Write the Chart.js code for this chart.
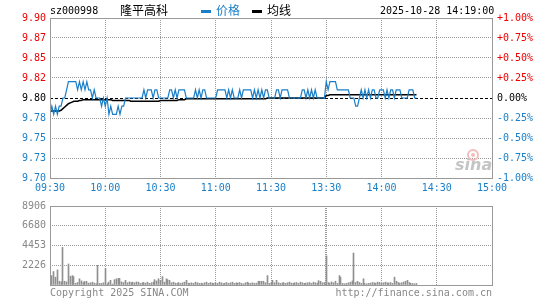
<!DOCTYPE html>
<html lang="zh-CN">
<head>
<meta charset="UTF-8">
<title>隆平高科 分时图</title>
<script src="https://cdn.jsdelivr.net/npm/chart.js"></script>
<style>
  body { margin: 0; width: 545px; height: 300px; position: relative; overflow: hidden; background: #fff;
         font-family: "DejaVu Sans Mono", monospace; font-size: 10px; color: #000; }
  .box { position: absolute; left: 0; width: 545px; }
  #priceBox { top: 0; height: 196px; }
  #volBox { top: 196px; height: 104px; }
  .txt { position: absolute; white-space: nowrap; line-height: 12px; }
  .cjk { font-family: "Noto Sans CJK SC", sans-serif; font-size: 12px; line-height: 14px; }
  .dash { position: absolute; width: 10px; height: 3px; }
  .gray { color: #888; }
</style>
</head>
<body>
<div class="box" id="priceBox"><canvas id="priceCanvas" width="545" height="196"></canvas></div>
<div class="box" id="volBox"><canvas id="volCanvas" width="545" height="104"></canvas></div>

<span class="txt" style="left:50px;top:5px">sz000998</span>
<span class="txt cjk" style="left:120px;top:3px">隆平高科</span>
<span class="dash" style="left:201px;top:10px;background:#1a7fc8"></span>
<span class="txt cjk" style="left:216px;top:3px;color:#1a7fc8">价格</span>
<span class="dash" style="left:252px;top:10px;background:#000"></span>
<span class="txt cjk" style="left:267px;top:3px">均线</span>
<span class="txt" style="left:380px;top:5px">2025-10-28 14:19:00</span>
<span class="txt gray" style="left:50px;top:287px">Copyright 2025 SINA.COM</span>
<span class="txt gray" style="right:53px;top:287px">http://finance.sina.com.cn</span>

<script>
const BLUE = '#1a7fc8';
const RED = '#ee0000';
const GRID = '#999';
const FONT = '"DejaVu Sans Mono", monospace';

const prevClose = 9.80;

// one point per minute, 09:30 .. 14:19
const price = [
  9.78,9.79,9.78,9.79,9.78,9.79,9.79,9.80,9.80,9.81,
  9.82,9.82,9.82,9.82,9.82,9.81,9.82,9.81,9.82,9.81,
  9.82,9.81,9.81,9.80,9.81,9.80,9.80,9.80,9.79,9.80,
  9.79,9.80,9.78,9.79,9.78,9.78,9.78,9.79,9.78,9.79,
  9.79,9.80,9.80,9.80,9.80,9.80,9.80,9.80,9.80,9.80,
  9.80,9.81,9.80,9.81,9.81,9.81,9.80,9.81,9.81,9.80,
  9.80,9.80,9.80,9.80,9.80,9.81,9.81,9.80,9.81,9.80,
  9.81,9.81,9.81,9.81,9.80,9.80,9.80,9.80,9.80,9.81,
  9.80,9.81,9.80,9.81,9.81,9.80,9.80,9.80,9.80,9.80,
  9.80,9.81,9.81,9.81,9.81,9.81,9.80,9.81,9.80,9.81,
  9.80,9.80,9.80,9.81,9.80,9.81,9.81,9.81,9.81,9.81,
  9.80,9.81,9.80,9.81,9.80,9.81,9.80,9.81,9.81,9.80,
  9.80,9.80,9.80,9.81,9.81,9.80,9.81,9.81,9.81,9.81,
  9.80,9.80,9.80,9.80,9.80,9.80,9.80,9.81,9.81,9.80,
  9.81,9.80,9.81,9.80,9.81,9.80,9.80,9.80,9.80,9.80,
  9.82,9.81,9.82,9.82,9.82,9.82,9.81,9.81,9.81,9.81,
  9.81,9.81,9.81,9.80,9.80,9.80,9.79,9.79,9.80,9.81,
  9.80,9.81,9.80,9.81,9.80,9.81,9.81,9.80,9.80,9.81,
  9.81,9.81,9.80,9.81,9.80,9.81,9.81,9.80,9.81,9.81,
  9.81,9.80,9.80,9.80,9.80,9.81,9.81,9.81,9.80,9.80
];

const avgLine = [
  9.784,9.784,9.784,9.784,9.784,9.784,9.785,9.787,9.789,9.791,
  9.793,9.794,9.795,9.796,9.796,9.796,9.797,9.797,9.798,9.798,
  9.798,9.798,9.798,9.798,9.798,9.798,9.798,9.798,9.798,9.798,
  9.798,9.798,9.798,9.798,9.797,9.797,9.797,9.797,9.797,9.797,
  9.797,9.797,9.797,9.797,9.796,9.796,9.796,9.796,9.796,9.796,
  9.796,9.796,9.796,9.796,9.796,9.796,9.796,9.796,9.796,9.796,
  9.797,9.797,9.797,9.797,9.797,9.797,9.797,9.797,9.797,9.797,
  9.798,9.798,9.798,9.798,9.799,9.799,9.799,9.799,9.799,9.799,
  9.799,9.799,9.799,9.799,9.799,9.799,9.799,9.799,9.799,9.799,
  9.799,9.799,9.799,9.799,9.799,9.799,9.799,9.799,9.799,9.799,
  9.799,9.799,9.799,9.799,9.799,9.799,9.799,9.799,9.799,9.799,
  9.799,9.799,9.799,9.799,9.799,9.799,9.799,9.799,9.800,9.800,
  9.800,9.800,9.800,9.800,9.800,9.800,9.800,9.800,9.800,9.800,
  9.800,9.800,9.800,9.800,9.800,9.800,9.800,9.800,9.800,9.800,
  9.800,9.800,9.800,9.800,9.800,9.800,9.800,9.800,9.800,9.800,
  9.803,9.803,9.804,9.804,9.804,9.804,9.804,9.804,9.804,9.804,
  9.804,9.804,9.804,9.804,9.804,9.804,9.804,9.804,9.804,9.804,
  9.804,9.804,9.804,9.804,9.804,9.804,9.804,9.804,9.804,9.804,
  9.804,9.804,9.804,9.804,9.804,9.804,9.804,9.804,9.804,9.804,
  9.804,9.804,9.804,9.804,9.804,9.804,9.804,9.804,9.804,9.804
];

const volume = [
  460,1060,1520,880,1700,420,350,4240,420,350,
  2370,990,1060,950,180,280,700,460,280,390,
  420,210,250,320,210,140,2220,180,180,250,
  1870,140,320,530,110,600,700,740,740,350,
  280,530,250,350,280,320,250,350,320,180,
  250,280,210,320,180,250,320,600,460,700,
  530,950,320,700,600,530,250,320,210,180,
  280,180,250,320,530,210,180,250,180,320,
  250,180,210,140,250,320,180,280,210,180,
  250,180,320,250,140,210,280,180,250,320,
  180,250,210,280,180,140,250,320,210,180,
  250,180,210,420,420,420,420,250,1060,180,
  280,530,250,530,250,180,210,280,180,250,
  320,210,180,250,280,180,320,250,180,210,
  250,280,180,320,250,180,490,420,250,280,
  3280,280,180,350,250,420,180,1060,880,180,
  140,180,250,320,460,3600,280,420,280,180,
  700,180,140,180,210,280,250,180,320,280,
  180,250,320,250,210,280,180,880,420,280,
  180,250,320,420,530,280,180,180,140,180
];

// axis ticks, bottom to top
const priceTicks = [9.702, 9.7265, 9.751, 9.7755, 9.80, 9.8245, 9.849, 9.8735, 9.898];
const priceTickLabels = ['9.70','9.73','9.75','9.78','9.80','9.82','9.85','9.87','9.90'];
const pctTickLabels = ['-1.00%','-0.75%','-0.50%','-0.25%','0.00%','+0.25%','+0.50%','+0.75%','+1.00%'];
const timeTicks = [0, 30, 60, 90, 120, 150, 180, 210, 240];
const timeLabels = ['09:30','10:00','10:30','11:00','11:30','13:30','14:00','14:30','15:00'];
const volTicks = [0, 2226.5, 4453, 6679.5, 8906];
const volTickLabels = ['', '2226', '4453', '6680', '8906'];

Chart.defaults.font.family = FONT;
Chart.defaults.font.size = 10;
Chart.defaults.animation = false;

function tickColor(c) {
  if (c.index > 4) return RED;
  if (c.index === 4) return '#000';
  return BLUE;
}

function drawFrame(chart) {
  const { ctx, chartArea: a } = chart;
  ctx.save();
  ctx.strokeStyle = GRID;
  ctx.lineWidth = 1;
  ctx.strokeRect(Math.round(a.left) + 0.5, Math.round(a.top) + 0.5,
                 Math.round(a.right - a.left), Math.round(a.bottom - a.top));
  ctx.restore();
}

const priceFrame = {
  id: 'priceFrame',
  beforeDatasetsDraw(chart) {
    const { ctx, chartArea: a, scales } = chart;
    ctx.save();
    // sina watermark
    ctx.strokeStyle = '#f4bcbc';
    ctx.lineWidth = 2;
    ctx.beginPath();
    ctx.arc(a.right - 19, a.bottom - 23, 5, 0, Math.PI * 2);
    ctx.stroke();
    ctx.fillStyle = '#f4bcbc';
    ctx.beginPath();
    ctx.arc(a.right - 19, a.bottom - 23, 2, 0, Math.PI * 2);
    ctx.fill();
    ctx.fillStyle = '#c4c4c4';
    ctx.font = 'italic bold 16px "DejaVu Sans"';
    ctx.textBaseline = 'alphabetic';
    ctx.fillText('sina', a.right - 37, a.bottom - 8);
    // previous close
    const y = Math.round(scales.y.getPixelForValue(prevClose)) + 0.5;
    ctx.strokeStyle = '#000';
    ctx.lineWidth = 1;
    ctx.setLineDash([3, 2]);
    ctx.beginPath();
    ctx.moveTo(a.left, y);
    ctx.lineTo(a.right, y);
    ctx.stroke();
    ctx.restore();
  },
  afterDraw: drawFrame
};

const volFrame = {
  id: 'volFrame',
  beforeDatasetsDraw(chart) {
    // snap the 1px bars onto whole pixels so they stay crisp
    chart.getDatasetMeta(0).data.forEach(el => { el.x = Math.floor(el.x) + 0.5; });
  },
  afterDraw: drawFrame
};

new Chart(document.getElementById('priceCanvas'), {
  type: 'line',
  data: {
    datasets: [
      { label: '价格', data: price.map((v, i) => ({ x: i, y: v })),
        borderColor: BLUE, borderWidth: 1.2, pointRadius: 0, tension: 0 },
      { label: '均线', data: avgLine.map((v, i) => ({ x: i, y: v })),
        borderColor: '#000', borderWidth: 1.5, pointRadius: 0, tension: 0 }
    ]
  },
  options: {
    responsive: false,
    devicePixelRatio: 1,
    layout: { padding: { top: 18, left: 0, right: 0, bottom: 0 } },
    plugins: { legend: { display: false }, tooltip: { enabled: false } },
    scales: {
      x: {
        type: 'linear', min: 0, max: 240,
        afterBuildTicks: ax => { ax.ticks = timeTicks.map(v => ({ value: v })); },
        afterFit: s => { s.height = 18; },
        ticks: { callback: (v, i) => timeLabels[i], color: BLUE, padding: 4,
                 maxRotation: 0, autoSkip: false },
        grid: { color: GRID, drawTicks: false },
        border: { display: false, dash: [1, 1] }
      },
      y: {
        position: 'left', min: 9.702, max: 9.898,
        afterBuildTicks: ax => { ax.ticks = priceTicks.map(v => ({ value: v })); },
        afterFit: s => { s.width = 50; },
        ticks: { callback: (v, i) => priceTickLabels[i], color: tickColor, padding: 4 },
        grid: { color: c => (c.index === 4 ? 'rgba(0,0,0,0)' : GRID), drawTicks: false },
        border: { display: false, dash: [1, 1] }
      },
      y2: {
        position: 'right', min: 9.702, max: 9.898,
        afterBuildTicks: ax => { ax.ticks = priceTicks.map(v => ({ value: v })); },
        afterFit: s => { s.width = 53; },
        ticks: { callback: (v, i) => pctTickLabels[i], color: tickColor, padding: 5 },
        grid: { display: false, drawTicks: false },
        border: { display: false }
      }
    }
  },
  plugins: [priceFrame]
});

new Chart(document.getElementById('volCanvas'), {
  type: 'bar',
  data: {
    datasets: [
      { label: '成交量', data: volume.map((v, i) => ({ x: i, y: v })),
        backgroundColor: '#909090', barThickness: 1 }
    ]
  },
  options: {
    responsive: false,
    devicePixelRatio: 1,
    layout: { padding: { top: 5, left: 0, right: 53, bottom: 15 } },
    plugins: { legend: { display: false }, tooltip: { enabled: false } },
    scales: {
      x: {
        type: 'linear', min: 0, max: 240, offset: false,
        afterBuildTicks: ax => { ax.ticks = timeTicks.map(v => ({ value: v })); },
        ticks: { display: false },
        grid: { color: GRID, drawTicks: false, offset: false,
                lineWidth: c => (c.index === 5 ? 2 : 1) },
        border: { display: false, dash: [1, 1] }
      },
      y: {
        min: 0, max: 8906,
        afterBuildTicks: ax => { ax.ticks = volTicks.map(v => ({ value: v })); },
        afterFit: s => { s.width = 50; },
        ticks: { callback: (v, i) => volTickLabels[i], color: '#888', padding: 4 },
        grid: { color: GRID, drawTicks: false },
        border: { display: false, dash: [1, 1] }
      }
    }
  },
  plugins: [volFrame]
});
</script>
</body>
</html>
